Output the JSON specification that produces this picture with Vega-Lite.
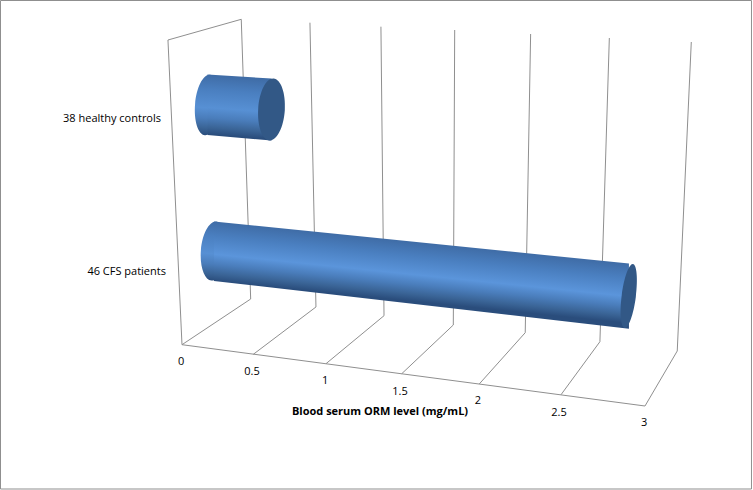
{
"$schema":"https://vega.github.io/schema/vega-lite/v6.json",
"width":753,"height":490,
"autosize":{"type":"fit","contains":"padding"},
"padding":0,
"background":"white",
"view":{"stroke":null},
"datasets":{
"wire":[
{"a":-1.176,"b":3.445,"a2":3.690,"b2":3.445},
{"a":3.690,"b":3.445,"a2":3.690,"b2":-1.44},
{"a":3.690,"b":-1.44,"a2":-1.176,"b2":-1.44},
{"a":-1.176,"b":-1.44,"a2":-1.176,"b2":3.445},
{"a":0.384,"b":3.257,"a2":0.445,"b2":0.46},
{"a":0.829,"b":3.223,"a2":0.868,"b2":0.38},
{"a":1.289,"b":3.183,"a2":1.309,"b2":0.293},
{"a":1.767,"b":3.15,"a2":1.758,"b2":0.2},
{"a":2.259,"b":3.11,"a2":2.224,"b2":0.123},
{"a":2.769,"b":3.07,"a2":2.708,"b2":0.033},
{"a":3.3,"b":3.03,"a2":3.209,"b2":-0.06},
{"a":0,"b":0.003,"a2":0.445,"b2":0.46},
{"a":0.462,"b":-0.093,"a2":0.868,"b2":0.38},
{"a":0.933,"b":-0.187,"a2":1.309,"b2":0.293},
{"a":1.424,"b":-0.287,"a2":1.758,"b2":0.2},
{"a":1.926,"b":-0.39,"a2":2.224,"b2":0.123},
{"a":2.456,"b":-0.497,"a2":2.708,"b2":0.033},
{"a":3,"b":-0.61,"a2":3.209,"b2":-0.06},
{"a":0,"b":0.003,"a2":3,"b2":-0.61},
{"a":-0.091,"b":3.05,"a2":0,"b2":0.003},
{"a":-0.091,"b":3.05,"a2":0.384,"b2":3.257}
],
"ticks":[
{"t":"0","a":-0.006,"b":-0.17},
{"t":"0.5","a":0.454,"b":-0.27},
{"t":"1","a":0.927,"b":-0.36},
{"t":"1.5","a":1.413,"b":-0.47},
{"t":"2","a":1.918,"b":-0.56},
{"t":"2.5","a":2.443,"b":-0.68},
{"t":"3","a":2.994,"b":-0.78}
],
"cats":[
{"t":"38 healthy controls","a":-0.136,"b":2.26},
{"t":"46 CFS patients","a":-0.104,"b":0.73}
],
"title":[{"t":"Blood serum ORM level (mg/mL)","a":1.283,"b":-0.67}],
"healthy":[
{"group":"38 healthy controls","a":0.165,"top":2.705,"bottom":2.1},
{"group":"38 healthy controls","a":0.58,"top":2.665,"bottom":2.045}
],
"cfs":[
{"group":"46 CFS patients","a":0.207,"top":1.236,"bottom":0.64},
{"group":"46 CFS patients","a":2.896,"top":0.814,"bottom":0.162}
]
},
"layer":[
{"data":{"name":"wire"},"mark":{"type":"rule","stroke":"#8f8f8f","strokeWidth":1},
 "encoding":{"x":{"field":"a","type":"quantitative","scale":{"domain":[-1.1793,3.6999],"nice":false,"zero":false},"axis":null},
 "y":{"field":"b","type":"quantitative","scale":{"domain":[-1.45,3.45],"nice":false,"zero":false},"axis":null},
 "x2":{"field":"a2"},"y2":{"field":"b2"}}},
{"data":{"name":"ticks"},"mark":{"type":"text","font":"Open Sans","fontSize":11,"fill":"#000000","align":"center","baseline":"middle"},
 "encoding":{"x":{"field":"a","type":"quantitative"},"y":{"field":"b","type":"quantitative"},"text":{"field":"t"}}},
{"data":{"name":"cats"},"mark":{"type":"text","font":"Open Sans","fontSize":11,"fill":"#000000","align":"right","baseline":"middle"},
 "encoding":{"x":{"field":"a","type":"quantitative"},"y":{"field":"b","type":"quantitative"},"text":{"field":"t"}}},
{"data":{"name":"title"},"mark":{"type":"text","font":"Open Sans","fontSize":11,"fontWeight":"bold","fill":"#000000","align":"center","baseline":"middle"},
 "encoding":{"x":{"field":"a","type":"quantitative"},"y":{"field":"b","type":"quantitative"},"text":{"field":"t"}}},
{"data":{"values":[{"group":"38 healthy controls","a":0.165,"b":2.4}]},
 "mark":{"type":"point","filled":true,"opacity":1,"strokeWidth":0,"size":3672,"angle":4.8,"shape":"M0,-1 A0.41,1 0 1,1 0,1 A0.41,1 0 1,1 0,-1 Z",
  "fill":{"gradient":"linear","x1":0,"y1":0,"x2":0,"y2":1,"stops":[{"offset":0,"color":"#3f6ca6"},{"offset":0.25,"color":"#4a7fc0"},{"offset":0.55,"color":"#5790d4"},{"offset":0.72,"color":"#4a7dbb"},{"offset":0.88,"color":"#3a6496"},{"offset":1,"color":"#2a4d7c"}]}},
 "encoding":{"x":{"field":"a","type":"quantitative"},"y":{"field":"b","type":"quantitative"}}},
{"data":{"values":[{"group":"46 CFS patients","a":0.207,"b":0.94}]},
 "mark":{"type":"point","filled":true,"opacity":1,"strokeWidth":0,"size":3528,"angle":4.8,"shape":"M0,-1 A0.44,1 0 1,1 0,1 A0.44,1 0 1,1 0,-1 Z",
  "fill":{"gradient":"linear","x1":0,"y1":0,"x2":0,"y2":1,"stops":[{"offset":0,"color":"#3f6ca6"},{"offset":0.25,"color":"#4a7fc0"},{"offset":0.55,"color":"#5790d4"},{"offset":0.72,"color":"#4a7dbb"},{"offset":0.88,"color":"#3a6496"},{"offset":1,"color":"#2a4d7c"}]}},
 "encoding":{"x":{"field":"a","type":"quantitative"},"y":{"field":"b","type":"quantitative"}}},
{"data":{"name":"healthy"},
 "mark":{"type":"area","opacity":1,"line":false,
  "fill":{"gradient":"linear","x1":0.5,"y1":0.036,"x2":0.435,"y2":0.941,"stops":[{"offset":0,"color":"#3f6ca6"},{"offset":0.25,"color":"#4a7fc0"},{"offset":0.55,"color":"#5790d4"},{"offset":0.72,"color":"#4a7dbb"},{"offset":0.88,"color":"#3a6496"},{"offset":1,"color":"#2a4d7c"}]}},
 "encoding":{"x":{"field":"a","type":"quantitative"},"y":{"field":"top","type":"quantitative"},"y2":{"field":"bottom"}}},
{"data":{"name":"cfs"},
 "mark":{"type":"area","opacity":1,"line":false,
  "fill":{"gradient":"linear","x1":0.5,"y1":0.1965,"x2":0.311,"y2":0.6775,"stops":[{"offset":0,"color":"#3f6ca6"},{"offset":0.25,"color":"#4a7fc0"},{"offset":0.55,"color":"#5b95db"},{"offset":0.72,"color":"#4a7dbb"},{"offset":0.88,"color":"#3a6496"},{"offset":1,"color":"#2a4d7c"}]}},
 "encoding":{"x":{"field":"a","type":"quantitative"},"y":{"field":"top","type":"quantitative"},"y2":{"field":"bottom"}}},
{"data":{"values":[{"group":"38 healthy controls","a":0.58,"b":2.355}]},
 "mark":{"type":"point","filled":true,"opacity":1,"strokeWidth":0,"size":3844,"angle":3.7,"fill":"#325886","shape":"M0,-1 A0.43,1 0 1,1 0,1 A0.43,1 0 1,1 0,-1 Z"},
 "encoding":{"x":{"field":"a","type":"quantitative"},"y":{"field":"b","type":"quantitative"}}},
{"data":{"values":[{"group":"46 CFS patients","a":2.895,"b":0.49}]},
 "mark":{"type":"point","filled":true,"opacity":1,"strokeWidth":0,"size":4147,"angle":7.4,"fill":"#325886","shape":"M0,-1 A0.22,1 0 1,1 0,1 A0.22,1 0 1,1 0,-1 Z"},
 "encoding":{"x":{"field":"a","type":"quantitative"},"y":{"field":"b","type":"quantitative"}}}
]
}
